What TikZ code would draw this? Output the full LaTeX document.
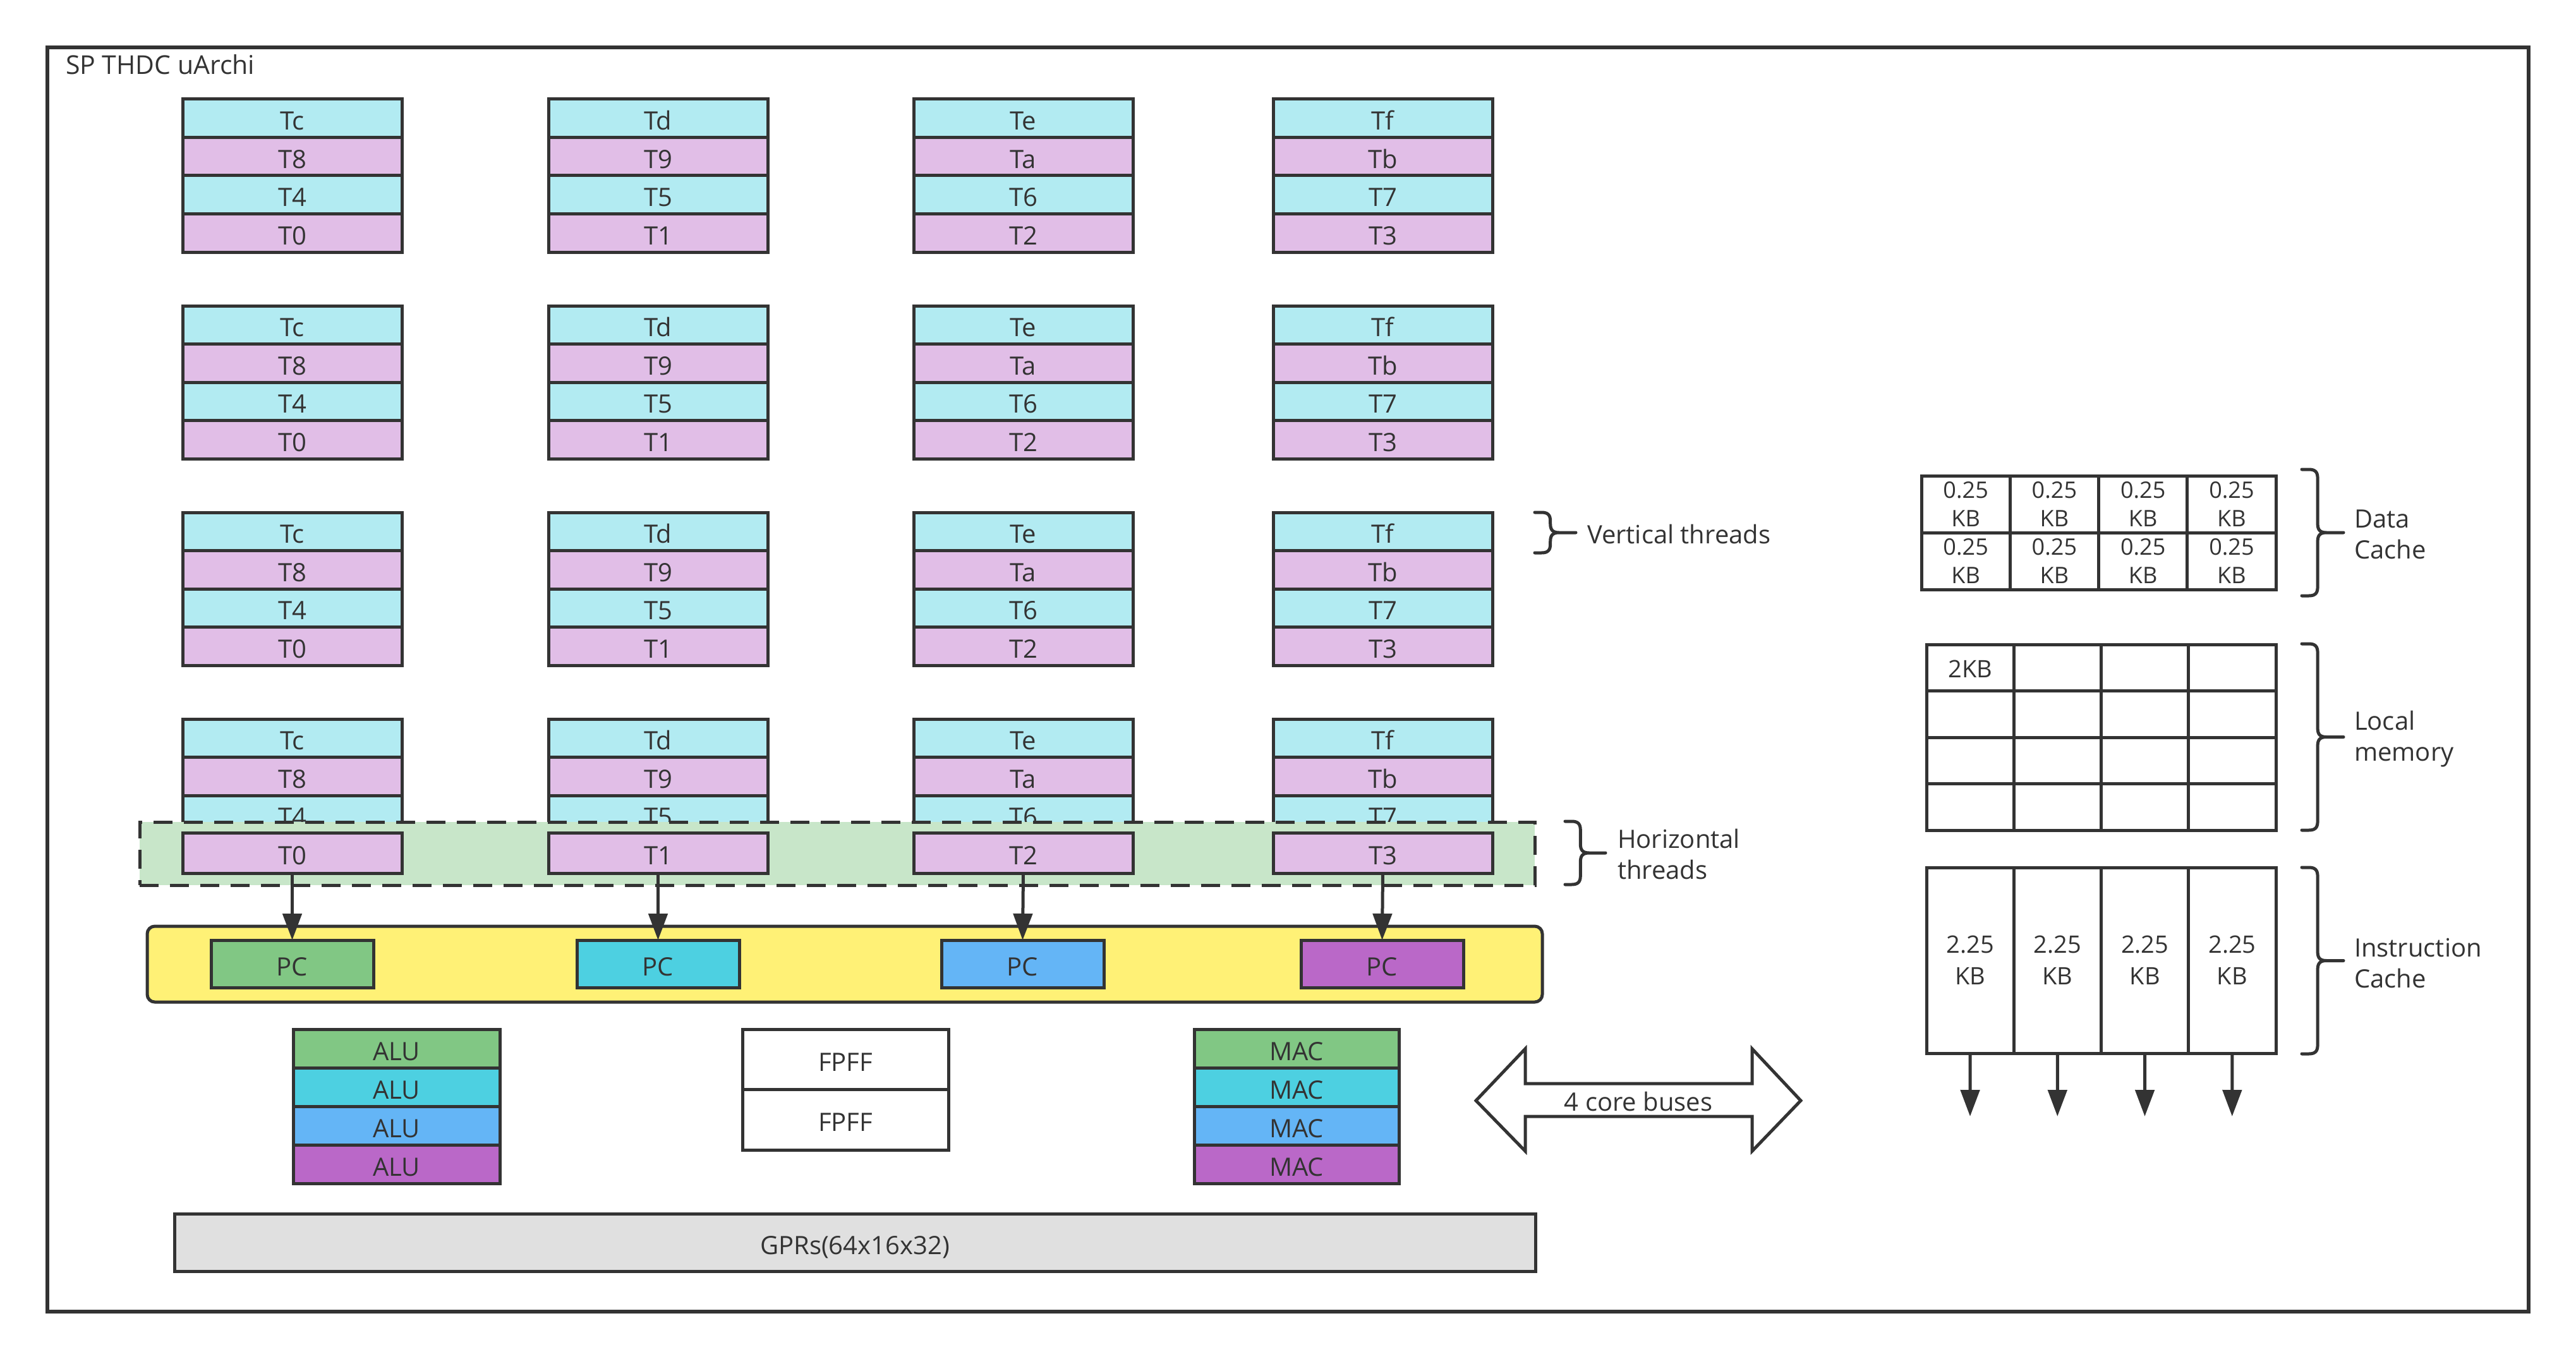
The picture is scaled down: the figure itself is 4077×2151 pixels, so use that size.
\documentclass[tikz,border=0pt]{standalone}
\usepackage{fontspec}
\setmainfont{Open Sans}
\usetikzlibrary{arrows.meta}
\definecolor{ink}{HTML}{333333}
\definecolor{cyanrow}{HTML}{B2EBF2}
\definecolor{purprow}{HTML}{E1BEE7}
\definecolor{gband}{HTML}{C8E6C9}
\definecolor{yband}{HTML}{FFF176}
\definecolor{cgreen}{HTML}{81C784}
\definecolor{ccyan}{HTML}{4DD0E1}
\definecolor{cblue}{HTML}{64B5F6}
\definecolor{cpurple}{HTML}{BA68C8}
\definecolor{gprfill}{HTML}{E0E0E0}
\newcommand\drawbrace[4]{%
  \pgfmathsetmacro\bxv{#1+0.38*#4}%
  \pgfmathsetmacro\bym{(#2+#3)/2}%
  \draw[bracestyle] (#1,#2) -- (\bxv-14,#2) .. controls (\bxv-4,#2) and (\bxv,#2+4) .. (\bxv,#2+14)
    -- (\bxv,\bym-14) .. controls (\bxv,\bym-4) and (\bxv+4,\bym) .. (\bxv+14,\bym) -- (#1+#4,\bym)
    -- (\bxv+14,\bym) .. controls (\bxv+4,\bym) and (\bxv,\bym+4) .. (\bxv,\bym+14)
    -- (\bxv,#3-14) .. controls (\bxv,#3-4) and (\bxv-4,#3) .. (\bxv-14,#3) -- (#1,#3);}
\begin{document}
\begin{tikzpicture}[x=1pt,y=-1pt,
  every node/.style={text=ink, inner sep=0pt, outer sep=0pt},
  boxbase/.style={draw=ink, line width=5pt, anchor=north west},
  cell/.style={boxbase, font=\fontsize{40}{49}\selectfont, text height=37pt, text depth=0pt},
  mcell/.style={boxbase, align=center, font=\fontsize{40}{49}\selectfont},
  lbl/.style={anchor=west, align=left, font=\fontsize{40}{49}\selectfont},
  arr/.style={draw=ink, line width=5pt, -{Triangle[length=42pt,width=30pt]}},
  bracestyle/.style={draw=ink, line width=5pt, line cap=round, line join=round},
  band/.style={draw=ink, line width=5pt, dash pattern=on 30pt off 18pt, fill=gband, anchor=north west}]
\useasboundingbox (0,0) rectangle (4077,2151);
\fill[white] (0,0) rectangle (4077,2151);

% frame
\node[draw=ink, line width=6pt, minimum width=3927pt, minimum height=2001pt, anchor=north west] (frame) at (75,75) {};
\node[anchor=west, font=\fontsize{41}{49}\selectfont] (title) at (104,102) {SP THDC uArchi};

% thread stacks
\foreach \x/\a/\b/\cc/\d [count=\i] in {289/Tc/T8/T4/T0, 868/Td/T9/T5/T1, 1446/Te/Ta/T6/T2, 2015/Tf/Tb/T7/T3} {
  \foreach \y [count=\j] in {157,484,811,1138} {
    \node[cell, fill=cyanrow, minimum width=347pt, minimum height=60.5pt] (s\i\j a) at (\x,\y) {\a};
    \node[cell, fill=purprow, minimum width=347pt, minimum height=60.5pt] (s\i\j b) at (\x,\y+60.5) {\b};
    \node[cell, fill=cyanrow, minimum width=347pt, minimum height=60.5pt] (s\i\j c) at (\x,\y+121) {\cc};
  }
  \foreach \y [count=\j] in {157,484,811} {
    \node[cell, fill=purprow, minimum width=347pt, minimum height=60.5pt] (s\i\j d) at (\x,\y+181.5) {\d};
  }
}

% horizontal threads band
\node[band, minimum width=2208pt, minimum height=100pt] (hband) at (221,1301) {};
\foreach \x/\d [count=\i] in {289/T0, 868/T1, 1446/T2, 2015/T3} {
  \node[cell, fill=purprow, minimum width=347pt, minimum height=64pt] (h\i) at (\x,1318) {\d};
}

% PC bar
\node[draw=ink, line width=5pt, fill=yband, rounded corners=12pt, minimum width=2208pt, minimum height=120pt, anchor=north west] (pcbar) at (233,1466) {};
\foreach \x/\col [count=\i] in {334/cgreen, 913/ccyan, 1490/cblue, 2059/cpurple} {
  \node[cell, fill=\col, minimum width=257pt, minimum height=75pt] (pc\i) at (\x,1488) {PC};
  \draw[arr] (h\i.south) -- (pc\i.north);
}

% ALU / FPFF / MAC
\foreach \col/\k [count=\i] in {cgreen/0, ccyan/1, cblue/2, cpurple/3} {
  \node[cell, fill=\col, minimum width=327pt, minimum height=61pt] (alu\i) at (464,1629+61*\k) {ALU};
  \node[cell, fill=\col, minimum width=324pt, minimum height=61pt] (mac\i) at (1890,1629+61*\k) {MAC};
}
\node[cell, fill=white, minimum width=326pt, minimum height=95.5pt] (fp1) at (1175,1629) {FPFF};
\node[cell, fill=white, minimum width=326pt, minimum height=95.5pt] (fp2) at (1175,1724.5) {FPFF};

% GPRs
\node[cell, fill=gprfill, minimum width=2154pt, minimum height=91pt] (gpr) at (276,1921) {GPRs(64x16x32)};

% 4 core buses double arrow
\draw[draw=ink, line width=5pt, fill=white, line join=miter]
  (2336,1742) -- (2414,1660) -- (2414,1715) -- (2773,1715) -- (2773,1660) -- (2850,1742)
  -- (2773,1822) -- (2773,1767) -- (2414,1767) -- (2414,1822) -- cycle;
\node[font=\fontsize{40}{49}\selectfont] (buses) at (2593,1743) {4 core buses};

% Data cache
\foreach \k [count=\i] in {0,1,2,3} {
  \node[mcell, font=\fontsize{36}{45}\selectfont, minimum width=140.25pt, minimum height=90pt] (dc\i a) at (3041+140.25*\k,753) {0.25\\KB};
  \node[mcell, font=\fontsize{36}{45}\selectfont, minimum width=140.25pt, minimum height=90pt] (dc\i b) at (3041+140.25*\k,843) {0.25\\KB};
}
% Local memory
\foreach \k [count=\i] in {0,1,2,3} {
  \foreach \r [count=\j] in {0,1,2,3} {
    \node[boxbase, minimum width=138.25pt, minimum height=73.5pt] (lm\i\j) at (3049+138.25*\k,1020+73.5*\r) {};
  }
}
\node[font=\fontsize{38}{46}\selectfont] (lmtext) at ([yshift=-2pt]lm11.center) {2KB};
% Instruction cache
\foreach \k [count=\i] in {0,1,2,3} {
  \node[mcell, font=\fontsize{38}{50}\selectfont, minimum width=138.25pt, minimum height=294pt] (ic\i) at (3049+138.25*\k,1373) {2.25\\KB};
  \coordinate (icend\i) at (3118+138.25*\k,1767);
  \draw[arr] (ic\i.south) -- (icend\i);
}

% braces and labels
\drawbrace{2429}{811}{875}{65}
\node[lbl] (vt) at (2512,845) {Vertical threads};
\drawbrace{2477}{1300}{1400}{64}
\node[lbl] (ht) at (2560,1352) {Horizontal\\threads};
\drawbrace{3643}{743}{943}{66}
\node[lbl] (dcl) at (3726,846) {Data\\Cache};
\drawbrace{3643}{1019}{1314}{66}
\node[lbl] (lml) at (3726,1170) {Local\\memory};
\drawbrace{3643}{1373}{1668}{66}
\node[lbl] (icl) at (3726,1525) {Instruction\\Cache};
\end{tikzpicture}
\end{document}
